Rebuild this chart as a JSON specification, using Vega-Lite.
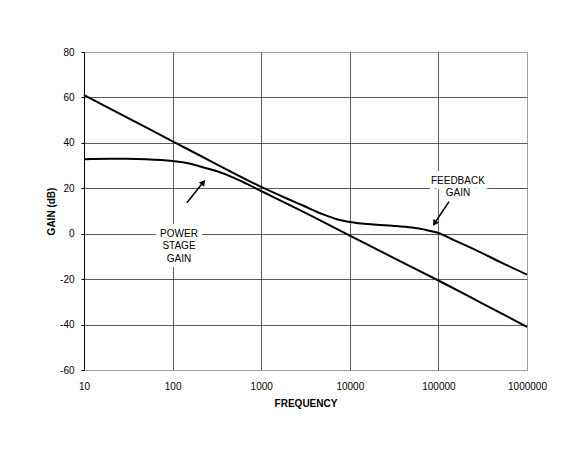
{
  "$schema": "https://vega.github.io/schema/vega-lite/v6.json",
  "width": 443,
  "height": 318,
  "padding": {"left": 46, "top": 47, "right": 10, "bottom": 5},
  "background": "white",
  "config": {
    "font": "Liberation Sans",
    "view": {"stroke": "#777", "strokeDash": [1, 1], "strokeWidth": 1},
    "axis": {
      "labelFont": "Liberation Sans",
      "titleFont": "Liberation Sans",
      "labelColor": "black",
      "titleColor": "black",
      "labelFontSize": 10,
      "titleFontSize": 10,
      "titleFontWeight": "bold",
      "gridColor": "#333",
      "gridWidth": 0.8,
      "gridOpacity": 1
    }
  },
  "datasets": {
    "gain": [
      {"curve": "feedback", "freq": 10, "gain": 61},
      {"curve": "feedback", "freq": 30, "gain": 51.3},
      {"curve": "feedback", "freq": 100, "gain": 40.7},
      {"curve": "feedback", "freq": 300, "gain": 31},
      {"curve": "feedback", "freq": 1000, "gain": 20.6},
      {"curve": "feedback", "freq": 2000, "gain": 15.3},
      {"curve": "feedback", "freq": 3000, "gain": 12.3},
      {"curve": "feedback", "freq": 5000, "gain": 8.5},
      {"curve": "feedback", "freq": 7000, "gain": 6.5},
      {"curve": "feedback", "freq": 10000, "gain": 5.2},
      {"curve": "feedback", "freq": 20000, "gain": 4},
      {"curve": "feedback", "freq": 30000, "gain": 3.5},
      {"curve": "feedback", "freq": 50000, "gain": 2.7},
      {"curve": "feedback", "freq": 70000, "gain": 1.8},
      {"curve": "feedback", "freq": 100000, "gain": 0.3},
      {"curve": "feedback", "freq": 150000, "gain": -2.8},
      {"curve": "feedback", "freq": 200000, "gain": -5},
      {"curve": "feedback", "freq": 300000, "gain": -8.2},
      {"curve": "feedback", "freq": 500000, "gain": -12.5},
      {"curve": "feedback", "freq": 1000000, "gain": -18},
      {"curve": "power", "freq": 10, "gain": 32.8},
      {"curve": "power", "freq": 20, "gain": 33},
      {"curve": "power", "freq": 30, "gain": 33},
      {"curve": "power", "freq": 50, "gain": 32.8},
      {"curve": "power", "freq": 100, "gain": 32},
      {"curve": "power", "freq": 150, "gain": 31},
      {"curve": "power", "freq": 200, "gain": 29.7},
      {"curve": "power", "freq": 300, "gain": 27.8},
      {"curve": "power", "freq": 500, "gain": 24.5},
      {"curve": "power", "freq": 700, "gain": 21.8},
      {"curve": "power", "freq": 1000, "gain": 18.8},
      {"curve": "power", "freq": 2000, "gain": 13},
      {"curve": "power", "freq": 3000, "gain": 9.6},
      {"curve": "power", "freq": 5000, "gain": 5.2},
      {"curve": "power", "freq": 10000, "gain": -0.8},
      {"curve": "power", "freq": 30000, "gain": -10.3},
      {"curve": "power", "freq": 100000, "gain": -20.6},
      {"curve": "power", "freq": 300000, "gain": -30.3},
      {"curve": "power", "freq": 1000000, "gain": -41}
    ],
    "labels": [
      {"text": "POWER\nSTAGE\nGAIN", "freq": 118, "gain": 0},
      {"text": "FEEDBACK\nGAIN", "freq": 166000, "gain": 23.3}
    ],
    "arrows": [
      {"name": "power", "freq": 145, "gain": 13.6, "freq2": 225, "gain2": 23, "hfreq": 222, "hgain": 22.6},
      {"name": "feedback", "freq": 132000, "gain": 14.1, "freq2": 90000, "gain2": 4.5, "hfreq": 90500, "hgain": 4.6}
    ]
  },
  "layer": [
    {
      "data": {"name": "gain"},
      "mark": {"type": "line", "color": "black", "strokeWidth": 2, "interpolate": "monotone"},
      "encoding": {
        "x": {
          "field": "freq",
          "type": "quantitative",
          "scale": {"type": "log", "domain": [10, 1000000], "nice": false},
          "axis": {
            "title": "FREQUENCY",
            "values": [10, 100, 1000, 10000, 100000, 1000000],
            "format": "d",
            "ticks": false,
            "domain": false,
            "labelFlush": false,
            "labelPadding": 11,
            "titlePadding": 7,
            "gridDash": {"condition": {"test": "datum.value == 1000000", "value": [1, 1]}, "value": []},
            "gridColor": {"condition": {"test": "datum.value == 1000000", "value": "#777"}, "value": "#333"}
          }
        },
        "y": {
          "field": "gain",
          "type": "quantitative",
          "scale": {"domain": [-60, 80], "nice": false, "zero": false},
          "axis": {
            "title": "GAIN (dB)",
            "values": [-60, -40, -20, 0, 20, 40, 60, 80],
            "labelExpr": "toString(datum.value)",
            "tickSize": 3,
            "tickColor": "black",
            "domainColor": "black",
            "labelPadding": 7,
            "titlePadding": 3,
            "gridDash": {"condition": {"test": "datum.value == 80 || datum.value == -60", "value": [1, 1]}, "value": []},
            "gridColor": {"condition": {"test": "datum.value == 80 || datum.value == -60", "value": "#777"}, "value": "#333"}
          }
        },
        "detail": {"field": "curve", "type": "nominal"}
      }
    },
    {
      "data": {"name": "labels"},
      "mark": {"type": "text", "fontSize": 10, "lineBreak": "\n", "lineHeight": 12.5, "align": "center", "baseline": "middle", "stroke": "white", "strokeWidth": 10, "strokeJoin": "round", "fill": "white"},
      "encoding": {
        "x": {"field": "freq", "type": "quantitative"},
        "y": {"field": "gain", "type": "quantitative"},
        "text": {"field": "text"}
      }
    },
    {
      "data": {"name": "labels"},
      "mark": {"type": "text", "fontSize": 10, "lineBreak": "\n", "lineHeight": 12.5, "align": "center", "baseline": "middle", "fill": "black"},
      "encoding": {
        "x": {"field": "freq", "type": "quantitative"},
        "y": {"field": "gain", "type": "quantitative"},
        "text": {"field": "text"}
      }
    },
    {
      "data": {"name": "arrows"},
      "mark": {"type": "rule", "color": "black", "strokeWidth": 1.5},
      "encoding": {
        "x": {"field": "freq", "type": "quantitative"},
        "y": {"field": "gain", "type": "quantitative"},
        "x2": {"field": "freq2"},
        "y2": {"field": "gain2"}
      }
    },
    {
      "data": {"name": "arrows"},
      "transform": [{"filter": "datum.name == 'power'"}],
      "mark": {"type": "point", "shape": "triangle-up", "filled": true, "color": "black", "opacity": 1, "size": 45, "angle": 38},
      "encoding": {
        "x": {"field": "hfreq", "type": "quantitative"},
        "y": {"field": "hgain", "type": "quantitative"}
      }
    },
    {
      "data": {"name": "arrows"},
      "transform": [{"filter": "datum.name == 'feedback'"}],
      "mark": {"type": "point", "shape": "triangle-up", "filled": true, "color": "black", "opacity": 1, "size": 45, "angle": 214},
      "encoding": {
        "x": {"field": "hfreq", "type": "quantitative"},
        "y": {"field": "hgain", "type": "quantitative"}
      }
    }
  ]
}
